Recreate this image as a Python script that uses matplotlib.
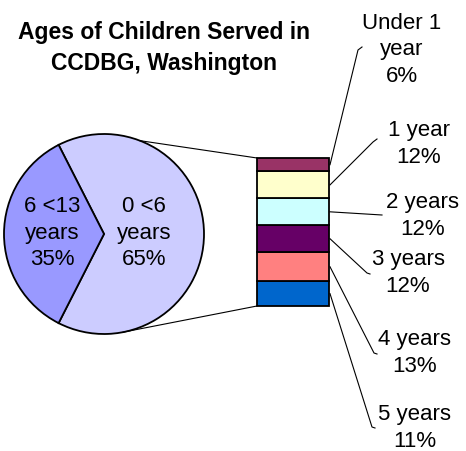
import numpy as np
import matplotlib
matplotlib.use("Agg")
import matplotlib.pyplot as plt

# --- data ---
pie_labels = ["0 <6\nyears", "6 <13\nyears"]
pie_values = [65, 35]
pie_colors = ["#ccccff", "#9999ff"]

bar_labels = ["Under 1\nyear", "1 year", "2 years", "3 years", "4 years", "5 years"]
bar_values = [6, 12, 12, 12, 13, 11]
bar_colors = ["#993366", "#ffffcc", "#ccffff", "#660066", "#ff8080", "#0066cc"]

title = "Ages of Children Served in\nCCDBG, Washington"

plt.rcParams['font.family'] = ['Liberation Sans', 'DejaVu Sans']

W, H = 466, 451
fig = plt.figure(figsize=(W / 100, H / 100), dpi=100)
ax = fig.add_axes([0, 0, 1, 1])
ax.axis("off")

def py(y):  # pixel row from top -> axes y
    return H - y

# --- pie ---
cx, cy, r = 104, py(234), 100
half = pie_values[1] / 100 * 360 / 2
ax.pie(pie_values, colors=pie_colors, center=(cx, cy), radius=r,
       startangle=-(180 - half), counterclock=True,
       wedgeprops=dict(edgecolor="black", linewidth=1.3))
ax.set_xlim(0, W)
ax.set_ylim(0, H)
ax.set_aspect("equal")
ax.text(144, py(233), f"{pie_labels[0]}\n{pie_values[0]}%", ha="center", va="center",
        fontsize=16, linespacing=1.32)
ax.text(52, py(233), f"{pie_labels[1]}\n{pie_values[1]}%", ha="center", va="center",
        fontsize=16, linespacing=1.32)

# --- bar of pie ---
bx, bw = 293, 72
b_bottom, b_top = py(306), py(158)
scale = (b_top - b_bottom) / sum(bar_values)
vals_up = bar_values[::-1]
cols_up = bar_colors[::-1]
bottoms = b_bottom + np.concatenate([[0], np.cumsum(vals_up)[:-1]]) * scale
ax.bar([bx] * len(vals_up), np.array(vals_up) * scale, bottom=bottoms, width=bw,
       color=cols_up, edgecolor="black", linewidth=1.3)

# connector lines pie -> bar
for ang, ybar in [(69, b_top), (-79, b_bottom)]:
    a = np.radians(ang)
    ax.plot([cx + r * np.cos(a), bx - bw / 2], [cy + r * np.sin(a), ybar],
            color="black", lw=0.8)

# labels + leaders (top to bottom)
mids = (bottoms + np.array(vals_up) * scale / 2)[::-1]
text_pos = [(402, 50), (419, 144), (423, 216), (408, 273), (415, 353), (415, 428)]
leader_end = [[(358, 50), (362, 47)], [(373, 142), (377, 139)], [(382, 215)],
              [(367, 273), (370, 274)], [(374, 353), (377, 354)], [(372, 427), (375, 428)]]
for lab, v, m, (tx, ty), ends in zip(bar_labels, bar_values, mids, text_pos, leader_end):
    ax.text(tx, py(ty), f"{lab}\n{v}%", ha="center", va="center", fontsize=16, linespacing=1.32)
    xs = [bx + bw / 2 + 1] + [e[0] for e in ends]
    ys = [m] + [py(e[1]) for e in ends]
    ax.plot(xs, ys, color="black", lw=0.8)

ax.text(164, py(48), title, ha="center", va="center", fontsize=16.5,
        fontweight="bold", linespacing=1.39)

fig.savefig("out.png", dpi=100)
